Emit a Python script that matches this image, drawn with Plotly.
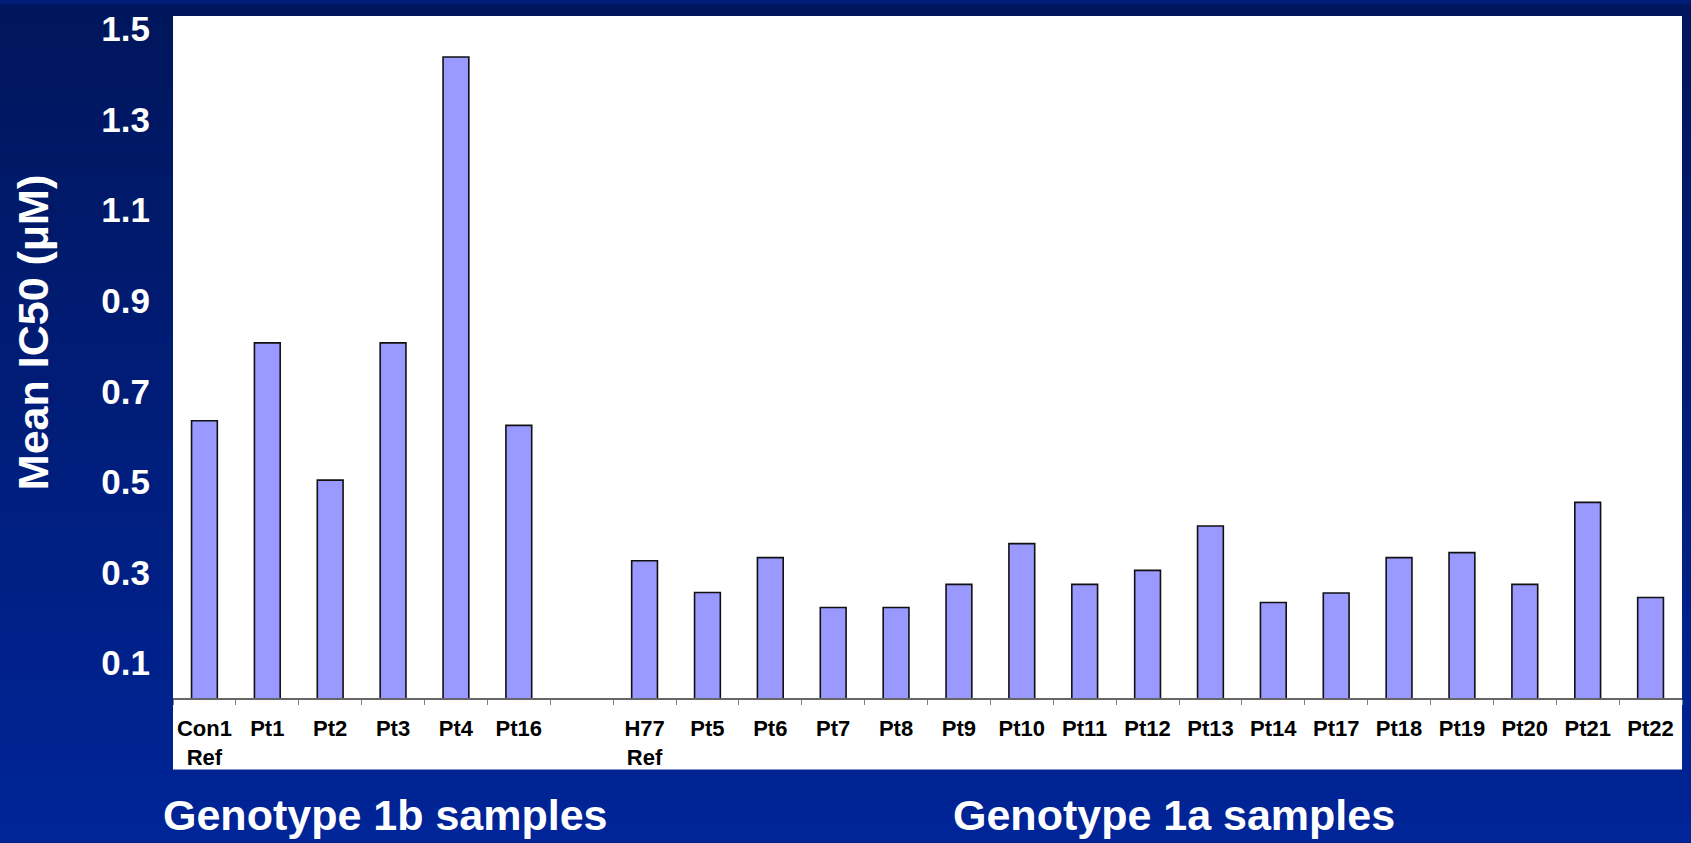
import plotly.graph_objects as go

# IC50 values
samples = ["Con1<br>Ref", "Pt1", "Pt2", "Pt3", "Pt4", "Pt16", " ",
           "H77<br>Ref", "Pt5", "Pt6", "Pt7", "Pt8", "Pt9", "Pt10", "Pt11",
           "Pt12", "Pt13", "Pt14", "Pt17", "Pt18", "Pt19", "Pt20", "Pt21", "Pt22"]
ic50 = [0.635, 0.807, 0.504, 0.807, 1.438, 0.625, None,
        0.326, 0.256, 0.333, 0.223, 0.223, 0.274, 0.364, 0.274,
        0.305, 0.403, 0.234, 0.255, 0.333, 0.344, 0.274, 0.455, 0.245]
yticks = [0.1, 0.3, 0.5, 0.7, 0.9, 1.1, 1.3, 1.5]
group_labels = ["Genotype 1b samples", "Genotype 1a samples"]

W, H = 1691, 843
L, R, T, B = 173, 9, 12, 145
plot_h = H - T - B
plot_w = W - L - R


def px_x(px):
    return (px - L) / plot_w


def px_y(py):
    return (H - B - py) / plot_h


fig = go.Figure()
fig.add_trace(go.Bar(
    x=samples, y=ic50,
    marker=dict(color="#9999ff", line=dict(color="#111111", width=1.6)),
    hoverinfo="x+y",
))

# dark blue gradient background (slide style)
shapes = []
n = 40
for i in range(n):
    f = i / (n - 1)
    g = int(22 + (37 - 22) * f)
    b = int(92 + (152 - 92) * f)
    shapes.append(dict(type="rect", xref="paper", yref="paper",
                       x0=px_x(0), x1=px_x(W),
                       y0=px_y(H * (i + 1) / n), y1=px_y(H * i / n),
                       fillcolor=f"rgb(0,{g},{b})", line=dict(width=0), layer="below"))
# white chart box including label strip
shapes.append(dict(type="rect", xref="paper", yref="paper",
                   x0=0, x1=1, y0=px_y(770), y1=1,
                   fillcolor="white", line=dict(width=0), layer="below"))

font = "Arial, Liberation Sans, Helvetica, sans-serif"
annotations = [
    dict(text="<b>Mean IC50 (μM)</b>", textangle=-90, xref="paper", yref="paper",
         x=px_x(33), y=px_y(331),
         showarrow=False, font=dict(family=font, size=43, color="white"),
         xanchor="center", yanchor="middle"),
    dict(text="<b>" + group_labels[0] + "</b>", xref="paper", yref="paper",
         x=px_x(385), y=px_y(816),
         showarrow=False, font=dict(family=font, size=43, color="white"),
         xanchor="center", yanchor="middle"),
    dict(text="<b>" + group_labels[1] + "</b>", xref="paper", yref="paper",
         x=px_x(1174), y=px_y(816),
         showarrow=False, font=dict(family=font, size=43, color="white"),
         xanchor="center", yanchor="middle"),
]

fig.update_layout(
    width=W, height=H,
    margin=dict(l=L, r=R, t=T, b=B),
    paper_bgcolor="#001d7a",
    plot_bgcolor="white",
    bargap=0.59,
    showlegend=False,
    shapes=shapes,
    annotations=annotations,
    font=dict(family=font),
)

fig.update_xaxes(
    type="category", categoryorder="array", categoryarray=samples,
    range=[-0.5, len(samples) - 0.5],
    tickson="boundaries", ticks="outside", ticklen=5, tickcolor="#808080",
    showline=True, linecolor="#666666", linewidth=1.5,
    tickfont=dict(family=font, size=22, color="black"),
    ticktext=["<b>" + s + "</b>" for s in samples], tickvals=samples,
    tickangle=0, ticklabelstandoff=10,
    showgrid=False, zeroline=False,
)
fig.update_yaxes(
    range=[0.0232, 1.5285],
    tickvals=yticks, ticktext=["<b>%.1f</b>" % v for v in yticks],
    tickfont=dict(family=font, size=35, color="white"),
    ticks="", ticklabelstandoff=22,
    showgrid=False, zeroline=False, showline=False,
)

fig.write_html("out.html", config={"displayModeBar": False},
               post_script="document.body.style.margin='0';")
